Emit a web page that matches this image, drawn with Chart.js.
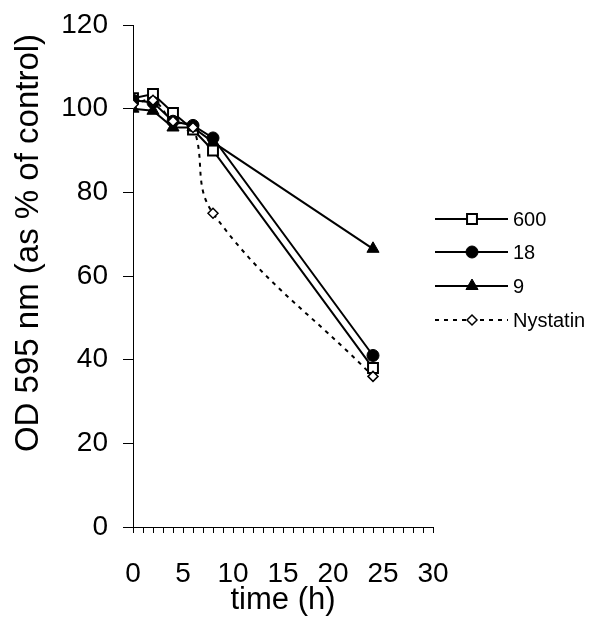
<!DOCTYPE html>
<html>
<head>
<meta charset="utf-8">
<script src="https://cdn.jsdelivr.net/npm/chart.js@4.4.0/dist/chart.umd.min.js"></script>
<style>
  html, body { margin: 0; padding: 0; background: #fff; }
  #wrap { width: 594px; height: 641px; }
</style>
</head>
<body>
<div id="wrap"><canvas id="odChart" width="594" height="641"></canvas></div>
<script>
const times = [0, 2, 4, 6, 8, 24];
const values600 = [102.5, 103.5, 99, 95, 90, 38];
const values18 = [102, 101.5, 97, 96, 93, 41];
const values9 = [100, 99.5, 95.5, 95.5, 92, 66.5];
const valuesNystatin = [101, 102, 97, 95.5, 75, 36];
const seriesNames = ['600', '18', '9', 'Nystatin'];
const yTicks = [0, 20, 40, 60, 80, 100, 120];
const xTicks = [0, 5, 10, 15, 20, 25, 30];
const yTitle = 'OD 595 nm (as % of control)';

function toPoints(vals) {
    return times.map((t, i) => ({ x: t, y: vals[i] }));
}

const fontFamily = 'Arial, "Liberation Sans", sans-serif';

// legend drawn like the Excel one: line with the marker in the middle
const lineLegend = {
    id: 'lineLegend',
    afterDraw(chart) {
        const ctx = chart.ctx;
        const rows = [219, 252, 286, 320];
        chart.data.datasets.forEach((ds, i) => {
            const y = rows[i];
            ctx.save();
            ctx.strokeStyle = '#000';
            ctx.lineWidth = ds.borderWidth;
            ctx.setLineDash(ds.borderDash || []);
            ctx.beginPath();
            ctx.moveTo(435, y);
            ctx.lineTo(508, y);
            ctx.stroke();
            ctx.setLineDash([]);
            ctx.fillStyle = ds.pointBackgroundColor;
            ctx.strokeStyle = ds.pointBorderColor;
            ctx.lineWidth = ds.pointBorderWidth;
            Chart.helpers.drawPoint(ctx, {
                pointStyle: ds.pointStyle,
                radius: ds.pointRadius,
                borderWidth: ds.pointBorderWidth,
                rotation: 0
            }, 472, y);
            ctx.fillStyle = '#000';
            ctx.font = '20px ' + fontFamily;
            ctx.textAlign = 'left';
            ctx.textBaseline = 'middle';
            ctx.fillText(ds.label, 513, y + 1);
            ctx.restore();
        });

        // y axis title sits a bit above the middle of the axis in the original
        ctx.save();
        ctx.translate(29, 243);
        ctx.rotate(-Math.PI / 2);
        ctx.fillStyle = '#000';
        ctx.font = '33px ' + fontFamily;
        ctx.textAlign = 'center';
        ctx.textBaseline = 'middle';
        ctx.fillText(yTitle, 0, 0);
        ctx.restore();
    }
};

new Chart(document.getElementById('odChart'), {
    type: 'line',
    data: {
        datasets: [
            {
                label: seriesNames[0],
                data: toPoints(values600),
                borderColor: '#000',
                borderWidth: 2,
                pointStyle: 'rect',
                pointRadius: 7,
                pointBackgroundColor: '#fff',
                pointBorderColor: '#000',
                pointBorderWidth: 2,
                tension: 0,
                order: 4
            },
            {
                label: seriesNames[1],
                data: toPoints(values18),
                borderColor: '#000',
                borderWidth: 2,
                pointStyle: 'circle',
                pointRadius: 6,
                pointBackgroundColor: '#000',
                pointBorderColor: '#000',
                pointBorderWidth: 1,
                tension: 0,
                order: 3
            },
            {
                label: seriesNames[2],
                data: toPoints(values9),
                borderColor: '#000',
                borderWidth: 2,
                pointStyle: 'triangle',
                pointRadius: 7,
                pointBackgroundColor: '#000',
                pointBorderColor: '#000',
                pointBorderWidth: 1,
                tension: 0,
                order: 2
            },
            {
                label: seriesNames[3],
                data: toPoints(valuesNystatin),
                borderColor: '#000',
                borderWidth: 2,
                borderDash: [4, 5],
                pointStyle: 'rectRot',
                pointRadius: 5,
                pointBackgroundColor: '#fff',
                pointBorderColor: '#000',
                pointBorderWidth: 1.5,
                tension: 0.4,
                order: 1
            }
        ]
    },
    options: {
        responsive: false,
        animation: false,
        devicePixelRatio: 1,
        layout: {
            padding: { top: 25, right: 161, bottom: 0, left: 0 }
        },
        plugins: {
            legend: { display: false },
            tooltip: { enabled: false }
        },
        scales: {
            x: {
                type: 'linear',
                min: 0,
                max: 30,
                afterBuildTicks: function(scale) {
                    const t = [];
                    for (let v = 0; v <= 30; v++) t.push({ value: v });
                    scale.ticks = t;
                },
                afterFit: function(scale) {
                    scale.height = 114;
                    scale.paddingLeft = 0;
                    scale.paddingRight = 0;
                },
                border: { display: true, color: '#000', width: 1 },
                grid: {
                    drawOnChartArea: false,
                    drawTicks: true,
                    tickLength: 6,
                    tickColor: '#000'
                },
                ticks: {
                    autoSkip: false,
                    maxRotation: 0,
                    padding: 24,
                    color: '#000',
                    font: { size: 28, family: fontFamily },
                    callback: function(value) {
                        return xTicks.includes(value) ? String(value) : '';
                    }
                },
                title: {
                    display: true,
                    text: 'time (h)',
                    color: '#000',
                    font: { size: 31, family: fontFamily },
                    padding: { top: 0, bottom: 22 }
                }
            },
            y: {
                min: 0,
                max: 120,
                afterBuildTicks: function(scale) {
                    scale.ticks = yTicks.map(v => ({ value: v }));
                },
                afterFit: function(scale) {
                    scale.width = 133;
                    scale.paddingTop = 0;
                    scale.paddingBottom = 0;
                },
                border: { display: true, color: '#000', width: 1 },
                grid: {
                    drawOnChartArea: false,
                    drawTicks: true,
                    tickLength: 10,
                    tickColor: '#000'
                },
                ticks: {
                    padding: 15,
                    color: '#000',
                    font: { size: 28, family: fontFamily }
                },
                title: { display: false }
            }
        }
    },
    plugins: [lineLegend]
});
</script>
</body>
</html>
